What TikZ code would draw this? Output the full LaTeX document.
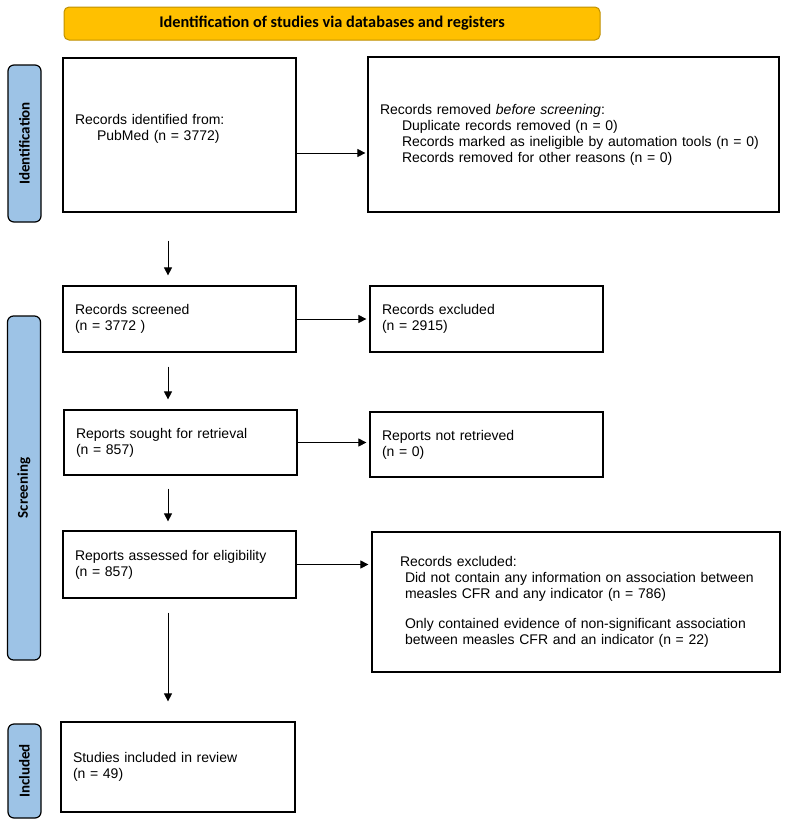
\documentclass[tikz,border=0pt]{standalone}
\usepackage{fontspec}
\setmainfont{Liberation Sans}
\newfontfamily\calibri{Carlito}
\usetikzlibrary{arrows.meta}
\definecolor{bannerfill}{HTML}{FFC000}
\definecolor{bannerline}{HTML}{BF9000}
\definecolor{barfill}{HTML}{9DC3E6}
\tikzset{
	box/.style 2 args={draw, line width=1.2pt, inner xsep=12pt, inner ysep=0pt, align=left,
		text width=#1, minimum height=#2, font=\fontsize{14}{16}\selectfont},
	phase/.style={draw, fill=barfill, line width=1.2pt, rounded corners=6pt, rotate=90,
		minimum height=33pt, inner sep=0pt, font=\calibri\bfseries\fontsize{15}{18}\selectfont},
	banner/.style={draw=bannerline, fill=bannerfill, line width=1pt, rounded corners=5pt,
		minimum width=536pt, minimum height=33pt, font=\calibri\bfseries\fontsize{16.3}{18}\selectfont},
	arr/.style={-{Triangle[length=8pt,width=8pt]}, line width=0.8pt},
}
\begin{document}
\begin{tikzpicture}[x=1pt, y=-1pt]
		\useasboundingbox (0,0) rectangle (789,825);
		\node[banner] (title) at (332,23.5) {Identification of studies via databases and registers};
		\node[phase, minimum width=157pt] (idbar) at (24.5,143.5) {Identification};
		\node[phase, minimum width=344pt] (scrbar) at (24,488) {Screening};
		\node[phase, minimum width=94pt] (incbar) at (24.5,771) {Included};
		\node[box={209pt}{154pt}] (identified) at (179.5,135) {Records identified from:\\\hspace*{22pt}PubMed (n = 3772)\\~};
		\node[box={387pt}{155pt}] (removed) at (573.5,134.5) {Records removed \textit{before screening}:\\
			\hspace*{22pt}Duplicate records removed (n = 0)\\
			\hspace*{22pt}Records marked as ineligible by automation tools (n = 0)\\
			\hspace*{22pt}Records removed for other reasons (n = 0)};
		\node[box={209pt}{66pt}] (screened) at (179.5,319) {Records screened\\(n = 3772 )};
		\node[box={209pt}{66pt}] (excluded) at (486.5,319) {Records excluded\\(n = 2915)};
		\node[box={209pt}{65pt}] (sought) at (180.5,442.5) {Reports sought for retrieval\\(n = 857)};
		\node[box={209pt}{65pt}] (notretr) at (486.5,444.5) {Reports not retrieved\\(n = 0)};
		\node[box={209pt}{67pt}] (assessed) at (179.5,564.5) {Reports assessed for eligibility\\(n = 857)};
		\node[box={384pt}{140pt}] (reasons) at (576,602) {\hspace*{16pt}Records excluded:\\
			\hspace*{21pt}Did not contain any information on association between\\
			\hspace*{21pt}measles CFR and any indicator (n = 786)\\[14pt]
			\hspace*{21pt}Only contained evidence of non-significant association\\
			\hspace*{21pt}between measles CFR and an indicator (n = 22)};
		\node[box={210pt}{90pt}] (included) at (178,767) {Studies included in review\\(n = 49)};
		% arrows to the right
		\coordinate (a1) at ([yshift=-18pt]identified.east);
		\draw[arr, shorten >=2pt] (a1) -- (a1 -| removed.west);
		\draw[arr, shorten >=3pt] (screened.east) -- (screened.east -| excluded.west);
		\draw[arr, shorten >=3pt] (sought.east) -- (sought.east -| notretr.west);
		\draw[arr, shorten >=3pt] (assessed.east) -- (assessed.east -| reasons.west);
		% arrows down
		\coordinate (axis) at (168,0);
		\foreach \a/\b/\s/\e in {identified/screened/28pt/10pt, screened/sought/14pt/10pt,
			sought/assessed/13pt/9pt, assessed/included/14pt/20pt}
			\draw[arr, shorten <=\s, shorten >=\e] (axis |- \a.south) -- (axis |- \b.north);
	\end{tikzpicture}
\end{document}
